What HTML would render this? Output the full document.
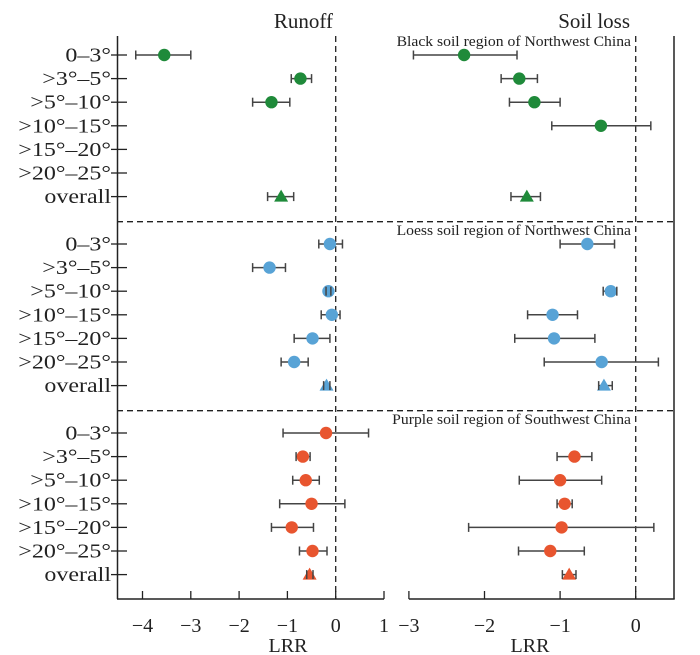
<!DOCTYPE html>
<html><head><meta charset="utf-8"><style>
html,body{margin:0;padding:0;background:#fff;}
svg{display:block;font-family:"Liberation Serif",serif;}
</style></head><body>
<svg id="chart" width="700" height="655" viewBox="0 0 700 655" xmlns="http://www.w3.org/2000/svg"></svg>
<script>
const categories = ["0–3°", ">3°–5°", ">5°–10°", ">10°–15°", ">15°–20°", ">20°–25°", "overall"];
const regions = ["Black soil region of Northwest China", "Loess soil region of Northwest China", "Purple soil region of Southwest China"];
const regionColors = ["#1f8a3a", "#58a3d6", "#e8552f"];
// runoff [mean, low, high] per category; null = no data
const runoffBlack = [[-3.55,-4.14,-3.0],[-0.73,-0.92,-0.5],[-1.33,-1.72,-0.95],null,null,null,[-1.13,-1.41,-0.87]];
const runoffLoess = [[-0.12,-0.35,0.14],[-1.37,-1.72,-1.04],[-0.15,-0.2,-0.1],[-0.08,-0.3,0.09],[-0.48,-0.86,-0.12],[-0.86,-1.13,-0.57],[-0.19,-0.25,-0.12]];
const runoffPurple = [[-0.2,-1.09,0.68],[-0.68,-0.82,-0.53],[-0.62,-0.89,-0.34],[-0.5,-1.16,0.19],[-0.91,-1.33,-0.46],[-0.48,-0.75,-0.18],[-0.54,-0.6,-0.47]];
const soilBlack = [[-2.27,-2.94,-1.57],[-1.54,-1.78,-1.3],[-1.34,-1.67,-1.0],[-0.46,-1.11,0.2],null,null,[-1.44,-1.65,-1.26]];
const soilLoess = [[-0.64,-1.0,-0.28],null,[-0.33,-0.43,-0.25],[-1.1,-1.43,-0.77],[-1.08,-1.6,-0.54],[-0.45,-1.21,0.3],[-0.42,-0.49,-0.31]];
const soilPurple = [null,[-0.81,-1.04,-0.58],[-1.0,-1.54,-0.45],[-0.94,-1.04,-0.84],[-0.98,-2.21,0.24],[-1.13,-1.55,-0.68],[-0.88,-0.97,-0.79]];
const runoffTicks = [-4,-3,-2,-1,0,1];
const soilTicks = [-3,-2,-1,0];

const svg = document.getElementById('chart');
const NS = "http://www.w3.org/2000/svg";
function mk(tag, attrs, parent){const e=document.createElementNS(NS,tag);for(const k in attrs)e.setAttribute(k,attrs[k]);(parent||svg).appendChild(e);return e;}
function stretch(t, f){try{const w=t.getComputedTextLength();if(w>0){t.setAttribute('textLength',(w*f).toFixed(1));t.setAttribute('lengthAdjust','spacingAndGlyphs');}}catch(err){}}
const xL = v => 335.7 + v*48.3;
const xR = v => 635.7 + v*75.6;
const yRow = (p,i) => 55 + p*189 + i*23.6;
const TOP=36, BOT=599;

let e;
e=mk('line',{x1:117.5,y1:TOP,x2:117.5,y2:BOT,stroke:'#222','stroke-width':1.5});


e=mk('line',{x1:674,y1:TOP,x2:674,y2:BOT,stroke:'#222','stroke-width':1.5});


e=mk('line',{x1:117,y1:BOT,x2:xL(1),y2:BOT,stroke:'#222','stroke-width':1.5});


e=mk('line',{x1:xR(-3),y1:BOT,x2:674.7,y2:BOT,stroke:'#222','stroke-width':1.5});


e=mk('line',{x1:xL(0),y1:TOP,x2:xL(0),y2:BOT,stroke:'#222','stroke-width':1.3,'stroke-dasharray':'6,4'});


e=mk('line',{x1:xR(0),y1:TOP,x2:xR(0),y2:BOT,stroke:'#222','stroke-width':1.3,'stroke-dasharray':'6,4'});


[221.7,410.7].forEach((y,i)=>{
  const l=mk('line',{x1:117,y1:y,x2:674,y2:y,stroke:'#222','stroke-width':1.3,'stroke-dasharray':'6,4'});
  
  
});

runoffTicks.forEach(v=>{
  const x=xL(v);
  const t=mk('line',{x1:x,y1:BOT,x2:x,y2:BOT-8,stroke:'#222','stroke-width':1.3});
  
  
  const tx=mk('text',{x:x,y:632,'text-anchor':'middle','font-size':20,fill:'#222'});
  tx.textContent = v<0 ? '−'+(-v) : String(v);
  
  
});
soilTicks.forEach(v=>{
  const x=xR(v);
  const t=mk('line',{x1:x,y1:BOT,x2:x,y2:BOT-8,stroke:'#222','stroke-width':1.3});
  
  
  const tx=mk('text',{x:x,y:632,'text-anchor':'middle','font-size':20,fill:'#222'});
  tx.textContent = v<0 ? '−'+(-v) : String(v);
  
  
});
e=mk('text',{x:288,y:652,'text-anchor':'middle','font-size':20,fill:'#222'});e.textContent='LRR';


e=mk('text',{x:530,y:652,'text-anchor':'middle','font-size':20,fill:'#222'});e.textContent='LRR';


e=mk('text',{x:333,y:28,'text-anchor':'end','font-size':21,fill:'#222'});e.textContent='Runoff';


e=mk('text',{x:630,y:28,'text-anchor':'end','font-size':21,fill:'#222'});e.textContent='Soil loss';



for(let p=0;p<3;p++){
  categories.forEach((c,i)=>{
    const y=yRow(p,i);
    const t=mk('line',{x1:111,y1:y,x2:127,y2:y,stroke:'#222','stroke-width':1.3});
    
    
    const tx=mk('text',{x:111,y:y+6.5,'text-anchor':'end','font-size':20,fill:'#222'});
    tx.textContent=c;
    
    
    stretch(tx,1.2);
  });
  const rl=mk('text',{x:631,y:[46,235,424][p],'text-anchor':'end','font-size':14.5,fill:'#222'});
  rl.textContent=regions[p];
  
  
  stretch(rl,1.08);
}

function drawSeries(data, p, xf, panel){
  const col=regionColors[p];
  data.forEach((d,i)=>{
    if(!d) return;
    const y=yRow(p,i);
    const g=mk('g',{});
    
    
    mk('line',{x1:xf(d[1]),y1:y,x2:xf(d[2]),y2:y,stroke:'#444','stroke-width':1.5},g);
    if(i===6){
      const cx=xf(d[0]);
      mk('polygon',{points:`${cx-7},${y+5} ${cx+7},${y+5} ${cx},${y-7}`,fill:col},g);
    } else {
      mk('circle',{cx:xf(d[0]),cy:y,r:6.2,fill:col},g);
    }
    [d[1],d[2]].forEach(v=>mk('line',{x1:xf(v),y1:y-4.5,x2:xf(v),y2:y+4.5,stroke:'#444','stroke-width':1.5},g));
  });
}
drawSeries(runoffBlack,0,xL,'runoff-black');
drawSeries(runoffLoess,1,xL,'runoff-loess');
drawSeries(runoffPurple,2,xL,'runoff-purple');
drawSeries(soilBlack,0,xR,'soil-black');
drawSeries(soilLoess,1,xR,'soil-loess');
drawSeries(soilPurple,2,xR,'soil-purple');
</script>
</body></html>
